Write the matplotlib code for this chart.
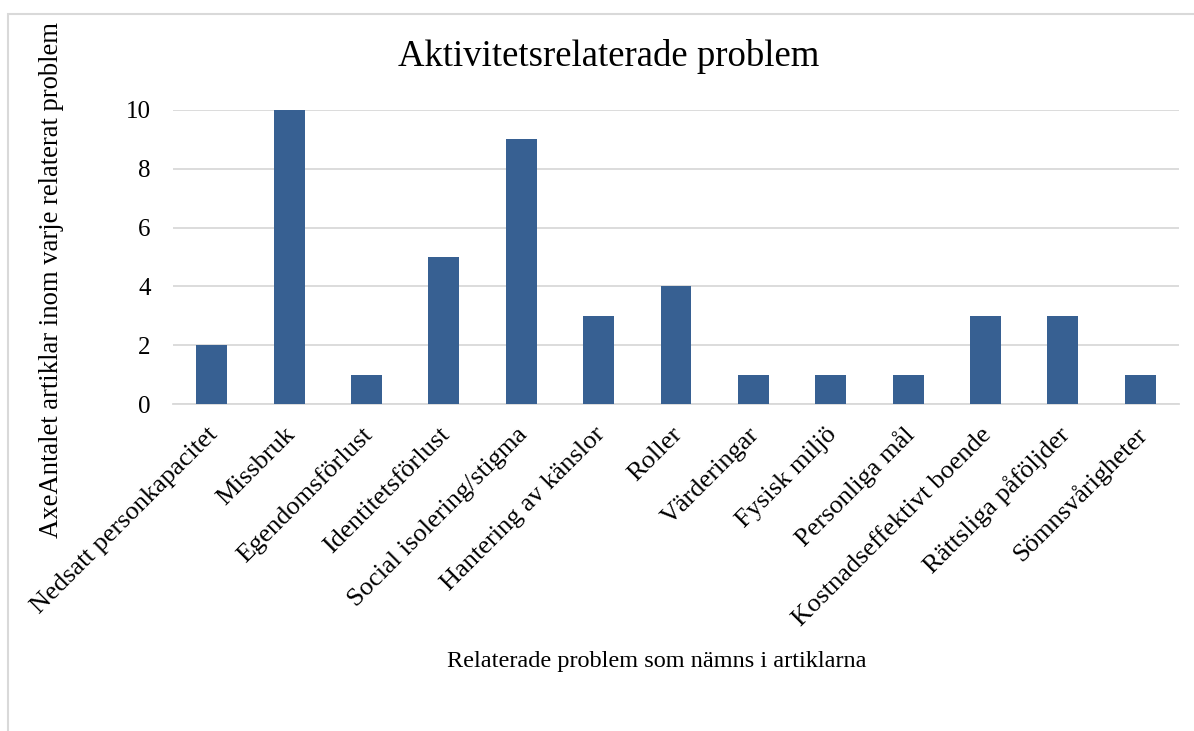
import matplotlib

matplotlib.use("Agg")
import matplotlib.pyplot as plt
from matplotlib.patches import Rectangle

plt.rcParams["font.family"] = ["Liberation Serif", "DejaVu Serif"]

categories = ["Nedsatt personkapacitet", "Missbruk", "Egendomsförlust",
              "Identitetsförlust", "Social isolering/stigma", "Hantering av känslor",
              "Roller", "Värderingar", "Fysisk miljö", "Personliga mål",
              "Kostnadseffektivt boende", "Rättsliga påföljder", "Sömnsvårigheter"]
counts = [2, 10, 1, 5, 9, 3, 4, 1, 1, 1, 3, 3, 1]
yticks = [0, 2, 4, 6, 8, 10]

BAR_C, GRID_C = "#376092", "#d9d9d9"
W, H = 1194, 731

fig = plt.figure(figsize=(W / 100, H / 100), dpi=100)
# chart-area border (runs off the right and bottom edge like the original)
fig.patches.append(Rectangle((8 / W, 0 - 0.01), 1.2, 1 - 14 / H + 0.01,
                             transform=fig.transFigure, fill=False,
                             edgecolor=GRID_C, linewidth=1.5))

ax = fig.add_axes([173 / W, 1 - 404 / H, (1179 - 173) / W, (404 - 110) / H])
x = list(range(len(categories)))
ax.bar(x, counts, width=0.4, color=BAR_C, zorder=3)
ax.set_xlim(-0.5, len(categories) - 0.5)
ax.set_ylim(0, 10)
ax.set_yticks(yticks)
ax.set_yticklabels([str(v) for v in yticks], fontsize=18)
ax.yaxis.grid(True, color=GRID_C, linewidth=1.3, zorder=0)
ax.set_xticks(x)
ax.set_xticklabels([])
# category labels: end of each text sits just below its category centre
for i, cat in zip(x, categories):
    ax.annotate(cat, xy=(i, 0), xycoords=("data", "axes fraction"),
                xytext=(2, -19.5), textcoords="offset points",
                fontsize=19, rotation=45, ha="right", va="center",
                rotation_mode="anchor", annotation_clip=False)
ax.tick_params(axis="both", length=0)
ax.tick_params(axis="y", pad=16)
for name, s in ax.spines.items():
    if name == "bottom":
        s.set_color(GRID_C)
        s.set_linewidth(1.3)
    else:
        s.set_visible(False)

fig.text(609 / W, 1 - 57 / H, "Aktivitetsrelaterade problem",
         fontsize=26.5, ha="center", va="center")
fig.text(52 / W, 1 - 280 / H, "AxeAntalet artiklar inom varje relaterat problem",
         fontsize=19.2, rotation=90, ha="center", va="center")
fig.text(657 / W, 1 - 661 / H, "Relaterade problem som nämns i artiklarna",
         fontsize=17.5, ha="center", va="center")

fig.savefig("out.png", dpi=100)
